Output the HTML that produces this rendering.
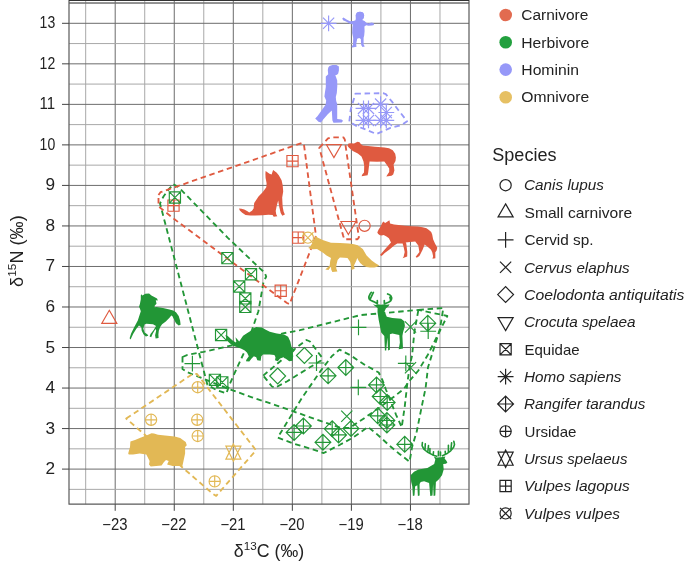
<!DOCTYPE html>
<html><head><meta charset="utf-8"><style>
html,body{margin:0;padding:0;background:#fff;width:685px;height:562px;overflow:hidden}
svg{display:block;will-change:transform}
</style></head><body><svg width="685" height="562" viewBox="0 0 685 562" font-family='"Liberation Sans", sans-serif'><g><line x1="85.68" y1="0.3" x2="85.68" y2="504.2" stroke="#a8a8a8" stroke-width="1"/><line x1="115.20" y1="0.3" x2="115.20" y2="504.2" stroke="#6c6c6c" stroke-width="1"/><line x1="144.72" y1="0.3" x2="144.72" y2="504.2" stroke="#a8a8a8" stroke-width="1"/><line x1="174.25" y1="0.3" x2="174.25" y2="504.2" stroke="#6c6c6c" stroke-width="1"/><line x1="203.77" y1="0.3" x2="203.77" y2="504.2" stroke="#a8a8a8" stroke-width="1"/><line x1="233.30" y1="0.3" x2="233.30" y2="504.2" stroke="#6c6c6c" stroke-width="1"/><line x1="262.82" y1="0.3" x2="262.82" y2="504.2" stroke="#a8a8a8" stroke-width="1"/><line x1="292.35" y1="0.3" x2="292.35" y2="504.2" stroke="#6c6c6c" stroke-width="1"/><line x1="321.88" y1="0.3" x2="321.88" y2="504.2" stroke="#a8a8a8" stroke-width="1"/><line x1="351.40" y1="0.3" x2="351.40" y2="504.2" stroke="#6c6c6c" stroke-width="1"/><line x1="380.92" y1="0.3" x2="380.92" y2="504.2" stroke="#a8a8a8" stroke-width="1"/><line x1="410.45" y1="0.3" x2="410.45" y2="504.2" stroke="#6c6c6c" stroke-width="1"/><line x1="439.97" y1="0.3" x2="439.97" y2="504.2" stroke="#a8a8a8" stroke-width="1"/><line x1="69.0" y1="489.36" x2="469.0" y2="489.36" stroke="#a8a8a8" stroke-width="1"/><line x1="69.0" y1="469.10" x2="469.0" y2="469.10" stroke="#6c6c6c" stroke-width="1"/><line x1="69.0" y1="448.84" x2="469.0" y2="448.84" stroke="#a8a8a8" stroke-width="1"/><line x1="69.0" y1="428.57" x2="469.0" y2="428.57" stroke="#6c6c6c" stroke-width="1"/><line x1="69.0" y1="408.31" x2="469.0" y2="408.31" stroke="#a8a8a8" stroke-width="1"/><line x1="69.0" y1="388.05" x2="469.0" y2="388.05" stroke="#6c6c6c" stroke-width="1"/><line x1="69.0" y1="367.78" x2="469.0" y2="367.78" stroke="#a8a8a8" stroke-width="1"/><line x1="69.0" y1="347.52" x2="469.0" y2="347.52" stroke="#6c6c6c" stroke-width="1"/><line x1="69.0" y1="327.26" x2="469.0" y2="327.26" stroke="#a8a8a8" stroke-width="1"/><line x1="69.0" y1="306.99" x2="469.0" y2="306.99" stroke="#6c6c6c" stroke-width="1"/><line x1="69.0" y1="286.73" x2="469.0" y2="286.73" stroke="#a8a8a8" stroke-width="1"/><line x1="69.0" y1="266.47" x2="469.0" y2="266.47" stroke="#6c6c6c" stroke-width="1"/><line x1="69.0" y1="246.20" x2="469.0" y2="246.20" stroke="#a8a8a8" stroke-width="1"/><line x1="69.0" y1="225.94" x2="469.0" y2="225.94" stroke="#6c6c6c" stroke-width="1"/><line x1="69.0" y1="205.67" x2="469.0" y2="205.67" stroke="#a8a8a8" stroke-width="1"/><line x1="69.0" y1="185.41" x2="469.0" y2="185.41" stroke="#6c6c6c" stroke-width="1"/><line x1="69.0" y1="165.15" x2="469.0" y2="165.15" stroke="#a8a8a8" stroke-width="1"/><line x1="69.0" y1="144.88" x2="469.0" y2="144.88" stroke="#6c6c6c" stroke-width="1"/><line x1="69.0" y1="124.62" x2="469.0" y2="124.62" stroke="#a8a8a8" stroke-width="1"/><line x1="69.0" y1="104.36" x2="469.0" y2="104.36" stroke="#6c6c6c" stroke-width="1"/><line x1="69.0" y1="84.09" x2="469.0" y2="84.09" stroke="#a8a8a8" stroke-width="1"/><line x1="69.0" y1="63.83" x2="469.0" y2="63.83" stroke="#6c6c6c" stroke-width="1"/><line x1="69.0" y1="43.57" x2="469.0" y2="43.57" stroke="#a8a8a8" stroke-width="1"/><line x1="69.0" y1="23.30" x2="469.0" y2="23.30" stroke="#6c6c6c" stroke-width="1"/><line x1="69.0" y1="3.04" x2="469.0" y2="3.04" stroke="#a8a8a8" stroke-width="1"/></g><rect x="69.0" y="0.3" width="400.00" height="503.90" fill="none" stroke="#5a5a5a" stroke-width="1.2" stroke-linejoin="round"/><line x1="69.0" y1="0.4" x2="469.0" y2="0.4" stroke="#333" stroke-width="1.1"/><line x1="69.0" y1="3.0" x2="469.0" y2="3.0" stroke="#555" stroke-width="1"/><g font-size="15.4" fill="#222"><line x1="62" y1="469.10" x2="69.0" y2="469.10" stroke="#444" stroke-width="1"/><text x="45.60" y="474.10" font-size="16.2" textLength="9.6" lengthAdjust="spacingAndGlyphs">2</text><line x1="62" y1="428.57" x2="69.0" y2="428.57" stroke="#444" stroke-width="1"/><text x="45.60" y="433.57" font-size="16.2" textLength="9.6" lengthAdjust="spacingAndGlyphs">3</text><line x1="62" y1="388.05" x2="69.0" y2="388.05" stroke="#444" stroke-width="1"/><text x="45.60" y="393.05" font-size="16.2" textLength="9.6" lengthAdjust="spacingAndGlyphs">4</text><line x1="62" y1="347.52" x2="69.0" y2="347.52" stroke="#444" stroke-width="1"/><text x="45.60" y="352.52" font-size="16.2" textLength="9.6" lengthAdjust="spacingAndGlyphs">5</text><line x1="62" y1="306.99" x2="69.0" y2="306.99" stroke="#444" stroke-width="1"/><text x="45.60" y="311.99" font-size="16.2" textLength="9.6" lengthAdjust="spacingAndGlyphs">6</text><line x1="62" y1="266.47" x2="69.0" y2="266.47" stroke="#444" stroke-width="1"/><text x="45.60" y="271.47" font-size="16.2" textLength="9.6" lengthAdjust="spacingAndGlyphs">7</text><line x1="62" y1="225.94" x2="69.0" y2="225.94" stroke="#444" stroke-width="1"/><text x="45.60" y="230.94" font-size="16.2" textLength="9.6" lengthAdjust="spacingAndGlyphs">8</text><line x1="62" y1="185.41" x2="69.0" y2="185.41" stroke="#444" stroke-width="1"/><text x="45.60" y="190.41" font-size="16.2" textLength="9.6" lengthAdjust="spacingAndGlyphs">9</text><line x1="62" y1="144.88" x2="69.0" y2="144.88" stroke="#444" stroke-width="1"/><text x="39.60" y="149.88" font-size="16.2" textLength="15.6" lengthAdjust="spacingAndGlyphs">10</text><line x1="62" y1="104.36" x2="69.0" y2="104.36" stroke="#444" stroke-width="1"/><text x="39.60" y="109.36" font-size="16.2" textLength="15.6" lengthAdjust="spacingAndGlyphs">11</text><line x1="62" y1="63.83" x2="69.0" y2="63.83" stroke="#444" stroke-width="1"/><text x="39.60" y="68.83" font-size="16.2" textLength="15.6" lengthAdjust="spacingAndGlyphs">12</text><line x1="62" y1="23.30" x2="69.0" y2="23.30" stroke="#444" stroke-width="1"/><text x="39.60" y="28.30" font-size="16.2" textLength="15.6" lengthAdjust="spacingAndGlyphs">13</text><line x1="115.20" y1="504.2" x2="115.20" y2="510.8" stroke="#444" stroke-width="1"/><text x="102.30" y="530.0" font-size="15.6" textLength="25.2" lengthAdjust="spacingAndGlyphs">−23</text><line x1="174.25" y1="504.2" x2="174.25" y2="510.8" stroke="#444" stroke-width="1"/><text x="161.35" y="530.0" font-size="15.6" textLength="25.2" lengthAdjust="spacingAndGlyphs">−22</text><line x1="233.30" y1="504.2" x2="233.30" y2="510.8" stroke="#444" stroke-width="1"/><text x="220.40" y="530.0" font-size="15.6" textLength="25.2" lengthAdjust="spacingAndGlyphs">−21</text><line x1="292.35" y1="504.2" x2="292.35" y2="510.8" stroke="#444" stroke-width="1"/><text x="279.45" y="530.0" font-size="15.6" textLength="25.2" lengthAdjust="spacingAndGlyphs">−20</text><line x1="351.40" y1="504.2" x2="351.40" y2="510.8" stroke="#444" stroke-width="1"/><text x="338.50" y="530.0" font-size="15.6" textLength="25.2" lengthAdjust="spacingAndGlyphs">−19</text><line x1="410.45" y1="504.2" x2="410.45" y2="510.8" stroke="#444" stroke-width="1"/><text x="397.55" y="530.0" font-size="15.6" textLength="25.2" lengthAdjust="spacingAndGlyphs">−18</text></g><text x="233.8" y="557.3" font-size="17.5" fill="#222" textLength="70.3" lengthAdjust="spacingAndGlyphs">δ<tspan font-size="11.5" dy="-7.5">13</tspan><tspan dy="7.5">C (‰)</tspan></text><text transform="translate(23.2,286.9) rotate(-90)" font-size="17.5" fill="#222" textLength="71.6" lengthAdjust="spacingAndGlyphs">δ<tspan font-size="11.5" dy="-7.5">15</tspan><tspan dy="7.5">N (‰)</tspan></text><g fill="none" stroke-width="1.85" stroke-dasharray="5.5 3.7" stroke-linejoin="round"><polygon points="173.5,184.3 178.5,187.1 227.6,237.6 258.4,267.0 264.5,272.5 266.2,276.5 263.4,282.7 258.4,311.2 244.7,351.2 236.0,370.0 229.6,384.5 226.4,393.3 216.1,389.8 207.4,384.8 160.0,203.5 163.5,196.5 169.0,189.0" stroke="#229636"/><polygon points="182.5,357.0 187.5,354.9 203.6,351.8 228.5,346.2 284.0,333.2 300.0,330.2 360.5,315.1 386.4,312.8 418.4,309.9 447.3,316.0 439.3,332.0 428.0,354.5 418.4,370.5 408.8,381.7 404.0,388.8 392.8,397.6 380.0,407.2 363.9,418.4 349.5,428.0 341.4,428.0 327.0,423.2 311.0,417.6 292.0,410.9 276.0,405.3 252.0,397.3 229.6,389.3 187.5,372.3 182.5,369.0" stroke="#229636"/><polygon points="418.4,309.9 443.3,308.0 440.0,328.8 434.5,346.4 428.0,367.3 425.6,388.0 421.6,407.2 416.8,431.2 412.0,447.3 409.6,461.7 399.2,453.7 389.6,445.7 376.2,433.5 368.0,427.0 352.4,438.0 339.9,444.8 323.7,453.0 311.0,448.9 295.0,444.0 277.7,437.6 302.1,397.6 321.4,369.9 332.0,356.0 339.5,349.6 350.0,355.0 365.0,365.0 378.7,372.5 382.4,380.0 386.1,390.0 391.1,402.4 396.1,414.8 401.7,427.3 404.8,406.1 407.3,383.7 409.8,365.0 412.0,356.0 414.4,332.0" stroke="#229636"/><polygon points="263.2,375.6 296.0,348.0 306.5,340.0 310.0,341.5 322.0,357.5 321.0,360.5 287.3,381.2 275.3,387.7 272.0,386.5" stroke="#229636"/><polygon points="355.4,93.7 383.0,93.2 385.8,94.2 392.4,102.2 398.1,109.8 407.1,121.2 401.9,125.0 390.5,127.8 376.3,134.0 368.7,130.7 356.4,126.0 349.3,121.7 350.7,109.8" stroke="#9698F8"/><polygon points="319.3,147.9 324.0,142.8 328.0,138.4 331.3,137.3 343.4,137.3 344.8,139.5 345.2,143.1 358.9,237.4 357.5,239.2 344.4,239.2 343.1,235.6" stroke="#DF5A40"/><polygon points="158.5,195.0 160.5,192.2 302.4,142.8 304.0,145.0 316.0,236.0 289.6,304.1 287.0,303.0 174.2,219.1 158.5,206.3" stroke="#DF5A40"/><polygon points="126.2,418.6 193.0,373.7 197.0,374.0 256.0,450.3 216.2,495.9 213.0,494.0" stroke="#E2B855"/></g><g fill="none" stroke="#9698F8" stroke-width="1.15"><path d="M323.00 17.70L334.20 28.90M323.00 28.90L334.20 17.70M320.68 23.30L336.52 23.30M328.60 15.38L328.60 31.22"/><path d="M357.90 102.80L369.10 114.00M357.90 114.00L369.10 102.80M355.58 108.40L371.42 108.40M363.50 100.48L363.50 116.32"/><path d="M362.90 102.80L374.10 114.00M362.90 114.00L374.10 102.80M360.58 108.40L376.42 108.40M368.50 100.48L368.50 116.32"/><path d="M375.00 98.50L386.20 109.70M375.00 109.70L386.20 98.50M372.68 104.10L388.52 104.10M380.60 96.18L380.60 112.02"/><path d="M380.70 106.90L391.90 118.10M380.70 118.10L391.90 106.90M378.38 112.50L394.22 112.50M386.30 104.58L386.30 120.42"/><path d="M357.90 114.80L369.10 126.00M357.90 126.00L369.10 114.80M355.58 120.40L371.42 120.40M363.50 112.48L363.50 128.32"/><path d="M362.90 114.80L374.10 126.00M362.90 126.00L374.10 114.80M360.58 120.40L376.42 120.40M368.50 112.48L368.50 128.32"/><path d="M375.00 114.80L386.20 126.00M375.00 126.00L386.20 114.80M372.68 120.40L388.52 120.40M380.60 112.48L380.60 128.32"/><path d="M380.70 114.80L391.90 126.00M380.70 126.00L391.90 114.80M378.38 120.40L394.22 120.40M386.30 112.48L386.30 128.32"/></g><g fill="none" stroke="#DF5A40" stroke-width="1.15"><path d="M333.90 157.61L341.44 144.55L326.36 144.55Z"/><path d="M348.40 234.51L355.94 221.45L340.86 221.45Z"/></g><g fill="none" stroke="#DF5A40" stroke-width="1.15"><circle cx="364.60" cy="225.80" r="5.60"/></g><g fill="none" stroke="#DF5A40" stroke-width="1.15"><path d="M167.90 200.00H179.10V211.20H167.90ZM167.90 205.60L179.10 205.60M173.50 200.00L173.50 211.20"/><path d="M286.90 155.50H298.10V166.70H286.90ZM286.90 161.10L298.10 161.10M292.50 155.50L292.50 166.70"/><path d="M292.60 232.00H303.80V243.20H292.60ZM292.60 237.60L303.80 237.60M298.20 232.00L298.20 243.20"/><path d="M275.10 285.10H286.30V296.30H275.10ZM275.10 290.70L286.30 290.70M280.70 285.10L280.70 296.30"/></g><g fill="none" stroke="#DF5A40" stroke-width="1.15"><path d="M109.30 310.29L116.84 323.35L101.76 323.35Z"/></g><g fill="none" stroke="#E2B855" stroke-width="1.15"><path d="M302.30 232.10L313.50 243.30M302.30 243.30L313.50 232.10"/><circle cx="307.90" cy="237.70" r="5.60"/></g><g fill="none" stroke="#E2B855" stroke-width="1.15"><path d="M192.10 387.20L203.30 387.20M197.70 381.60L197.70 392.80"/><circle cx="197.70" cy="387.20" r="5.60"/><path d="M145.50 419.80L156.70 419.80M151.10 414.20L151.10 425.40"/><circle cx="151.10" cy="419.80" r="5.60"/><path d="M191.60 419.80L202.80 419.80M197.20 414.20L197.20 425.40"/><circle cx="197.20" cy="419.80" r="5.60"/><path d="M192.10 436.00L203.30 436.00M197.70 430.40L197.70 441.60"/><circle cx="197.70" cy="436.00" r="5.60"/><path d="M209.10 481.40L220.30 481.40M214.70 475.80L214.70 487.00"/><circle cx="214.70" cy="481.40" r="5.60"/></g><g fill="none" stroke="#E2B855" stroke-width="1.15"><path d="M233.40 443.89L240.94 459.13L225.86 459.13ZM233.40 461.31L240.94 446.07L225.86 446.07Z"/></g><g fill="none" stroke="#229636" stroke-width="1.15"><path d="M169.30 191.90H180.50V203.10H169.30ZM169.30 191.90L180.50 203.10M169.30 203.10L180.50 191.90"/><path d="M221.80 252.50H233.00V263.70H221.80ZM221.80 252.50L233.00 263.70M221.80 263.70L233.00 252.50"/><path d="M245.40 268.60H256.60V279.80H245.40ZM245.40 268.60L256.60 279.80M245.40 279.80L256.60 268.60"/><path d="M233.60 280.90H244.80V292.10H233.60ZM233.60 280.90L244.80 292.10M233.60 292.10L244.80 280.90"/><path d="M239.70 292.80H250.90V304.00H239.70ZM239.70 292.80L250.90 304.00M239.70 304.00L250.90 292.80"/><path d="M239.70 301.30H250.90V312.50H239.70ZM239.70 301.30L250.90 312.50M239.70 312.50L250.90 301.30"/><path d="M215.50 329.40H226.70V340.60H215.50ZM215.50 329.40L226.70 340.60M215.50 340.60L226.70 329.40"/><path d="M209.30 374.20H220.50V385.40H209.30ZM209.30 374.20L220.50 385.40M209.30 385.40L220.50 374.20"/><path d="M216.70 376.70H227.90V387.90H216.70ZM216.70 376.70L227.90 387.90M216.70 387.90L227.90 376.70"/></g><g fill="none" stroke="#229636" stroke-width="1.15"><path d="M184.48 363.60L200.32 363.60M192.40 355.68L192.40 371.52"/><path d="M308.58 363.00L324.42 363.00M316.50 355.08L316.50 370.92"/><path d="M350.38 387.40L366.22 387.40M358.30 379.48L358.30 395.32"/><path d="M350.58 327.40L366.42 327.40M358.50 319.48L358.50 335.32"/><path d="M397.88 363.40L413.72 363.40M405.80 355.48L405.80 371.32"/><path d="M420.28 331.20L436.12 331.20M428.20 323.28L428.20 339.12"/></g><g fill="none" stroke="#229636" stroke-width="1.15"><path d="M404.90 321.40L416.10 332.60M404.90 332.60L416.10 321.40"/><path d="M404.90 362.20L416.10 373.40M404.90 373.40L416.10 362.20"/><path d="M341.20 410.60L352.40 421.80M341.20 421.80L352.40 410.60"/></g><g fill="none" stroke="#229636" stroke-width="1.15"><path d="M296.48 355.50L304.40 347.58L312.32 355.50L304.40 363.42Z"/><path d="M269.78 376.00L277.70 368.08L285.62 376.00L277.70 383.92Z"/></g><g fill="none" stroke="#229636" stroke-width="1.15"><path d="M320.18 375.80L328.10 367.88L336.02 375.80L328.10 383.72ZM320.18 375.80L336.02 375.80M328.10 367.88L328.10 383.72"/><path d="M337.88 367.50L345.80 359.58L353.72 367.50L345.80 375.42ZM337.88 367.50L353.72 367.50M345.80 359.58L345.80 375.42"/><path d="M368.58 384.90L376.50 376.98L384.42 384.90L376.50 392.82ZM368.58 384.90L384.42 384.90M376.50 376.98L376.50 392.82"/><path d="M372.28 396.50L380.20 388.58L388.12 396.50L380.20 404.42ZM372.28 396.50L388.12 396.50M380.20 388.58L380.20 404.42"/><path d="M379.28 402.50L387.20 394.58L395.12 402.50L387.20 410.42ZM379.28 402.50L395.12 402.50M387.20 394.58L387.20 410.42"/><path d="M369.78 415.80L377.70 407.88L385.62 415.80L377.70 423.72ZM369.78 415.80L385.62 415.80M377.70 407.88L377.70 423.72"/><path d="M378.98 420.50L386.90 412.58L394.82 420.50L386.90 428.42ZM378.98 420.50L394.82 420.50M386.90 412.58L386.90 428.42"/><path d="M378.98 425.00L386.90 417.08L394.82 425.00L386.90 432.92ZM378.98 425.00L394.82 425.00M386.90 417.08L386.90 432.92"/><path d="M286.18 432.40L294.10 424.48L302.02 432.40L294.10 440.32ZM286.18 432.40L302.02 432.40M294.10 424.48L294.10 440.32"/><path d="M295.48 426.00L303.40 418.08L311.32 426.00L303.40 433.92ZM295.48 426.00L311.32 426.00M303.40 418.08L303.40 433.92"/><path d="M324.28 428.80L332.20 420.88L340.12 428.80L332.20 436.72ZM324.28 428.80L340.12 428.80M332.20 420.88L332.20 436.72"/><path d="M330.68 434.90L338.60 426.98L346.52 434.90L338.60 442.82ZM330.68 434.90L346.52 434.90M338.60 426.98L338.60 442.82"/><path d="M343.08 428.40L351.00 420.48L358.92 428.40L351.00 436.32ZM343.08 428.40L358.92 428.40M351.00 420.48L351.00 436.32"/><path d="M314.98 442.30L322.90 434.38L330.82 442.30L322.90 450.22ZM314.98 442.30L330.82 442.30M322.90 434.38L322.90 450.22"/><path d="M396.78 444.30L404.70 436.38L412.62 444.30L404.70 452.22ZM396.78 444.30L412.62 444.30M404.70 436.38L404.70 452.22"/><path d="M419.88 323.20L427.80 315.28L435.72 323.20L427.80 331.12ZM419.88 323.20L435.72 323.20M427.80 315.28L427.80 331.12"/></g><g stroke-linejoin="round"><polygon points="342.3,18.2 343.5,17.6 346.5,19.5 350.0,21.2 353.5,21.0 355.5,20.3 355.8,18.5 355.6,15.0 357.0,12.4 360.0,11.7 363.0,12.4 364.2,15.2 363.5,18.5 362.2,20.0 364.5,21.0 366.3,22.8 368.5,23.5 371.5,22.5 373.6,23.0 374.0,25.0 372.0,25.6 368.5,25.8 366.2,25.2 364.4,26.5 364.6,31.0 364.2,35.5 363.6,37.8 363.6,44.5 364.8,46.5 362.5,47.0 361.2,45.0 360.8,39.0 359.2,38.0 357.2,38.8 356.2,44.0 356.5,46.8 352.3,47.4 351.6,46.3 353.0,45.0 353.2,38.0 352.2,33.0 352.4,27.5 352.8,24.6 349.5,23.6 346.0,21.5 343.0,20.2" fill="#9698F8"/><circle cx="360" cy="15.8" r="4.1" fill="#9698F8"/><polygon points="329.5,66.0 332.5,65.0 336.5,64.9 338.9,66.5 338.9,70.5 338.2,73.5 337.0,74.8 335.3,75.3 336.0,77.0 337.2,80.5 337.3,86.0 336.8,93.0 335.8,97.0 336.2,101.0 337.2,104.0 337.2,119.0 341.5,119.6 343.0,120.8 341.8,122.6 333.5,122.8 332.4,120.5 331.8,110.5 328.0,114.0 323.2,119.5 321.0,122.6 318.5,121.8 315.2,118.6 317.6,116.0 325.6,104.8 326.2,100.5 324.4,96.4 325.0,92.0 325.8,87.0 325.8,76.5 328.2,74.3 327.8,70.0 328.3,67.5" fill="#9698F8"/><polygon points="347.4,145.7 348.5,143.6 350.7,143.2 354.0,143.5 357.5,141.8 359.5,142.2 361.0,144.3 362.8,145.4 368.0,146.0 375.0,146.8 384.5,147.4 389.0,148.2 392.8,150.3 395.2,153.8 395.9,157.5 395.5,161.0 393.6,164.6 394.4,170.6 393.2,174.5 391.5,175.8 386.3,176.5 387.5,174.5 389.2,172.0 389.2,168.5 386.5,164.5 384.3,161.5 377.0,161.7 369.6,161.4 369.0,166.0 368.2,172.5 367.6,175.2 361.6,176.2 362.4,174.3 364.0,172.5 364.2,166.0 363.5,161.5 361.5,156.5 357.8,153.6 352.8,151.0 349.0,147.8" fill="#DF5A40"/><polygon points="265.6,171.0 269.5,173.8 271.6,174.6 273.1,170.0 276.5,172.5 278.8,175.2 281.6,180.2 282.7,185.3 283.2,191.4 282.2,197.5 282.5,204.0 282.8,207.6 283.6,211.5 284.9,214.6 282.3,215.7 280.7,213.0 279.5,208.0 278.6,203.2 278.2,200.5 276.8,205.6 275.7,211.0 276.2,214.2 277.3,216.3 273.7,216.8 272.6,214.9 268.5,214.8 262.4,215.3 255.0,215.5 250.3,215.4 245.5,214.9 242.2,212.8 239.8,210.6 239.0,208.6 241.5,208.8 244.2,209.6 247.5,211.2 249.2,212.4 252.0,210.8 253.6,208.5 254.2,203.0 256.5,199.5 258.5,196.4 262.4,192.4 264.5,189.8 266.3,187.3 266.6,183.3 265.6,178.0 265.4,174.0" fill="#DF5A40"/><polygon points="377.3,232.6 378.5,229.8 380.6,226.6 382.0,223.5 383.2,221.4 385.2,223.0 387.5,221.5 389.4,220.3 390.1,223.4 394.0,224.5 398.4,225.1 405.0,225.8 412.0,226.2 418.0,226.6 422.6,227.2 426.5,228.3 428.9,229.9 431.2,232.0 432.2,234.5 433.1,239.3 435.0,243.5 437.3,247.7 436.5,250.8 435.3,252.2 435.4,258.2 432.5,258.8 433.1,256.2 432.3,252.5 431.0,249.8 428.5,247.5 424.7,244.6 422.6,249.8 419.4,256.1 416.8,257.8 415.7,256.7 417.5,254.5 419.4,251.9 418.3,245.6 415.2,241.4 410.0,242.0 405.7,242.5 406.3,243.5 407.3,252.0 407.2,256.5 402.6,258.2 403.6,256.7 404.7,252.0 403.5,246.5 402.6,243.5 397.3,243.5 394.2,245.6 389.5,249.5 384.7,253.0 381.6,256.1 380.0,255.1 382.6,252.0 386.5,247.5 391.0,242.5 388.9,238.3 386.5,236.5 383.7,235.1 381.5,235.5 380.0,235.2 378.2,234.0" fill="#DF5A40"/><polygon points="308.2,247.9 311.0,245.5 314.0,239.5 315.8,235.8 317.5,237.5 319.0,238.3 323.4,240.2 331.0,242.8 340.0,243.1 348.8,243.4 354.0,244.2 357.7,245.3 362.8,249.1 366.6,255.5 371.7,260.6 375.5,263.3 379.3,265.6 376.5,267.0 374.2,267.5 370.0,267.4 366.6,266.9 363.0,265.5 360.2,263.1 358.5,260.5 357.2,258.0 356.4,260.6 354.0,265.4 354.6,268.8 351.3,270.1 351.3,266.9 350.5,263.0 350.1,261.8 347.5,258.0 344.0,257.8 339.9,257.4 337.6,259.9 336.4,265.0 336.2,268.2 337.4,271.4 332.3,272.0 331.2,269.5 331.0,266.5 328.5,270.1 325.3,269.5 327.5,267.5 329.7,265.6 330.2,261.0 331.0,258.0 326.5,255.5 323.4,252.9 317.0,249.1 313.0,249.3 310.7,249.1" fill="#E2B855"/><polygon points="141.3,294.2 142.4,295.4 145.4,293.7 149.1,293.6 151.4,295.4 153.8,296.7 157.0,298.6 157.9,300.6 155.8,300.3 156.5,303.8 154.8,305.6 154.5,307.2 156.5,307.1 163.0,308.0 169.5,309.4 173.2,310.4 176.0,312.2 178.7,315.9 180.1,320.5 180.6,324.7 178.7,325.6 176.0,323.3 174.1,319.6 172.3,315.9 171.3,315.5 169.5,317.8 165.8,321.5 162.1,324.2 160.2,327.0 158.8,330.7 158.4,334.4 158.6,338.0 155.6,338.6 155.1,335.3 156.2,330.5 155.5,329.0 152.8,333.5 151.2,337.2 149.6,336.5 150.5,334.0 153.8,329.8 156.0,326.0 153.0,324.2 146.4,323.8 144.5,324.4 143.3,328.6 144.6,332.4 147.3,334.2 148.3,335.8 145.9,336.4 143.6,334.6 141.7,330.7 141.3,327.2 139.0,325.6 136.2,329.0 133.4,333.5 131.6,337.2 130.6,339.5 129.6,338.3 131.1,333.5 134.3,327.0 137.8,320.5 139.9,314.0 140.8,311.3 139.9,308.5 139.0,306.7 139.9,303.9 140.8,299.3 140.8,295.6" fill="#229636"/><polygon points="225.4,335.0 227.8,335.9 230.4,338.5 233.3,340.9 235.9,342.4 236.3,341.8 235.5,337.2 237.5,339.5 239.2,341.6 241.2,338.5 243.1,335.7 246.5,333.4 250.5,331.1 253.3,328.3 256.2,327.1 261.9,327.5 265.3,329.4 269.8,331.7 276.7,333.4 284.1,334.5 288.1,336.8 290.3,341.4 291.5,347.1 293.8,348.8 294.9,350.5 292.8,352.8 293.2,356.2 292.6,360.7 289.2,361.3 286.9,359.6 283.5,357.3 280.1,358.4 277.8,361.3 275.0,360.2 275.5,357.3 274.4,355.0 269.8,354.5 263.0,354.5 261.3,356.2 260.7,360.7 257.3,360.2 256.2,357.3 253.9,356.2 251.6,358.4 249.3,361.6 245.9,361.3 246.5,359.6 248.8,356.2 247.1,352.8 244.8,350.5 241.4,348.8 236.8,347.1 233.4,345.9 230.0,343.6 227.1,340.8" fill="#229636"/><polygon points="372.9,304.2 375.5,305.0 377.5,304.3 381.0,304.8 384.3,304.3 387.0,304.8 389.5,304.3 388.5,306.2 385.8,308.5 384.5,311.5 386.8,316.8 392.4,318.0 401.1,318.7 404.3,321.2 404.9,326.1 403.0,332.4 402.4,336.1 403.0,348.6 398.7,349.2 399.9,342.4 399.3,334.9 392.4,333.6 389.9,334.3 389.9,349.8 388.1,350.5 387.4,337.4 386.2,350.5 384.9,350.5 384.3,336.1 381.2,332.4 378.7,320.0 377.5,312.0 377.6,308.0 375.2,306.3" fill="#229636"/><polygon points="128.2,453.5 128.8,451.3 130.0,447.0 130.4,441.4 135.0,440.0 141.0,437.5 147.0,435.3 151.5,433.3 154.0,433.5 158.0,434.8 165.0,435.5 174.7,436.5 180.2,438.1 185.7,442.0 186.8,445.3 185.1,446.9 185.1,453.5 183.5,461.1 182.4,466.1 172.6,466.1 167.1,464.4 168.7,461.1 166.0,460.0 163.8,462.2 161.6,465.5 150.7,466.6 149.0,464.4 149.6,461.1 146.3,454.6 139.7,453.5 133.1,454.6 128.8,454.6" fill="#E2B855"/><polygon points="433.8,456.6 436.5,457.6 441.0,457.3 445.4,456.6 444.6,458.6 446.2,460.6 447.4,462.4 446.0,463.7 443.2,463.9 443.7,469.5 442.0,475.2 438.7,479.6 435.9,481.9 435.3,495.4 433.6,495.9 433.1,484.1 432.5,495.4 430.3,495.9 429.1,483.0 424.1,481.3 420.7,481.9 419.6,484.1 419.6,495.4 417.9,495.9 417.3,485.3 415.1,486.4 414.5,495.4 412.9,495.9 412.3,486.4 411.2,481.9 410.6,475.2 414.0,471.8 418.5,469.5 427.4,467.9 434.2,463.9 435.3,459.6" fill="#229636"/><path d="M377.2,303.6L373.5,301.6L370.6,300.3Q368.6,299.2 368.9,296.6L370.2,293.8L371.4,292.3M370.4,298.6L372.3,294.6L373.4,292.4M377.4,303L377.3,300.6M384.6,303.8L388.6,302.3Q391.8,300.6 391.7,297.8Q391.3,295.6 389.6,294.8L387.6,294.0M390.8,300.6L389.9,297.2M384.3,303.2L384.3,300.6" fill="none" stroke="#229636" stroke-width="1.7" stroke-linecap="round"/><path d="M436.7,456.2L432.6,454.9L427.3,452.0L423.8,449.1L422.1,445.6L422.4,442.6M425.0,449.7L425.3,443.8M427.9,451.4L428.5,445.6M429.9,453.0L429.9,448.5M433.2,454.9L433.5,451.7M438.4,455.8L438.4,451.4M440.5,455.8L440.5,452.0M442.5,455.8L446.6,453.8L450.7,450.8L453.6,447.3L454.5,444.4L453.8,441.3M445.4,454.4L445.2,451.4M448.4,452.2L448.4,445.2M450.9,449.8L451.6,442.8" fill="none" stroke="#229636" stroke-width="1.6" stroke-linecap="round"/></g><g><circle cx="505.7" cy="15.0" r="6.3" fill="#E26B50"/><text x="521.3" y="20.1" font-size="14" fill="#222" textLength="67.1" lengthAdjust="spacingAndGlyphs">Carnivore</text><circle cx="505.7" cy="42.3" r="6.3" fill="#22A03E"/><text x="521.3" y="47.9" font-size="14" fill="#222" textLength="67.9" lengthAdjust="spacingAndGlyphs">Herbivore</text><circle cx="505.7" cy="69.6" r="6.3" fill="#9698F8"/><text x="521.3" y="74.7" font-size="14" fill="#222" textLength="57.6" lengthAdjust="spacingAndGlyphs">Hominin</text><circle cx="505.7" cy="97.3" r="6.3" fill="#E6C063"/><text x="521.3" y="102.4" font-size="14" fill="#222" textLength="67.9" lengthAdjust="spacingAndGlyphs">Omnivore</text><text x="492.3" y="160.6" font-size="18.3" fill="#222" textLength="64.2" lengthAdjust="spacingAndGlyphs">Species</text><g fill="none" stroke="#222" stroke-width="1.2"><circle cx="505.60" cy="185.20" r="5.60"/></g><text x="524.0" y="190.4" font-size="13.9" fill="#222" font-style="italic" textLength="80.0" lengthAdjust="spacingAndGlyphs">Canis lupus</text><g fill="none" stroke="#222" stroke-width="1.2"><path d="M505.60 203.84L513.14 216.90L498.06 216.90Z"/></g><text x="524.5" y="217.8" font-size="13.9" fill="#222" textLength="107.6" lengthAdjust="spacingAndGlyphs">Small carnivore</text><g fill="none" stroke="#222" stroke-width="1.2"><path d="M497.68 239.90L513.52 239.90M505.60 231.98L505.60 247.82"/></g><text x="524.5" y="245.1" font-size="13.9" fill="#222" textLength="69.0" lengthAdjust="spacingAndGlyphs">Cervid sp.</text><g fill="none" stroke="#222" stroke-width="1.2"><path d="M500.00 261.65L511.20 272.85M500.00 272.85L511.20 261.65"/></g><text x="524.0" y="272.5" font-size="13.9" fill="#222" font-style="italic" textLength="105.7" lengthAdjust="spacingAndGlyphs">Cervus elaphus</text><g fill="none" stroke="#222" stroke-width="1.2"><path d="M497.68 294.60L505.60 286.68L513.52 294.60L505.60 302.52Z"/></g><text x="524.0" y="299.8" font-size="13.9" fill="#222" font-style="italic" textLength="160.5" lengthAdjust="spacingAndGlyphs">Coelodonta antiquitatis</text><g fill="none" stroke="#222" stroke-width="1.2"><path d="M505.60 330.66L513.14 317.60L498.06 317.60Z"/></g><text x="524.0" y="327.1" font-size="13.9" fill="#222" font-style="italic" textLength="111.6" lengthAdjust="spacingAndGlyphs">Crocuta spelaea</text><g fill="none" stroke="#222" stroke-width="1.2"><path d="M500.00 343.70H511.20V354.90H500.00ZM500.00 343.70L511.20 354.90M500.00 354.90L511.20 343.70"/></g><text x="524.5" y="354.5" font-size="13.9" fill="#222" textLength="55.1" lengthAdjust="spacingAndGlyphs">Equidae</text><g fill="none" stroke="#222" stroke-width="1.2"><path d="M500.00 371.05L511.20 382.25M500.00 382.25L511.20 371.05M497.68 376.65L513.52 376.65M505.60 368.73L505.60 384.57"/></g><text x="524.0" y="381.9" font-size="13.9" fill="#222" font-style="italic" textLength="97.5" lengthAdjust="spacingAndGlyphs">Homo sapiens</text><g fill="none" stroke="#222" stroke-width="1.2"><path d="M497.68 404.00L505.60 396.08L513.52 404.00L505.60 411.92ZM497.68 404.00L513.52 404.00M505.60 396.08L505.60 411.92"/></g><text x="524.0" y="409.2" font-size="13.9" fill="#222" font-style="italic" textLength="121.4" lengthAdjust="spacingAndGlyphs">Rangifer tarandus</text><g fill="none" stroke="#222" stroke-width="1.2"><path d="M500.00 431.35L511.20 431.35M505.60 425.75L505.60 436.95"/><circle cx="505.60" cy="431.35" r="5.60"/></g><text x="524.5" y="436.6" font-size="13.9" fill="#222" textLength="52.0" lengthAdjust="spacingAndGlyphs">Ursidae</text><g fill="none" stroke="#222" stroke-width="1.2"><path d="M505.60 449.99L513.14 465.23L498.06 465.23ZM505.60 467.41L513.14 452.17L498.06 452.17Z"/></g><text x="524.0" y="463.9" font-size="13.9" fill="#222" font-style="italic" textLength="103.4" lengthAdjust="spacingAndGlyphs">Ursus spelaeus</text><g fill="none" stroke="#222" stroke-width="1.2"><path d="M500.00 480.45H511.20V491.65H500.00ZM500.00 486.05L511.20 486.05M505.60 480.45L505.60 491.65"/></g><text x="524.0" y="491.2" font-size="13.9" fill="#222" font-style="italic" textLength="105.8" lengthAdjust="spacingAndGlyphs">Vulpes lagopus</text><g fill="none" stroke="#222" stroke-width="1.2"><path d="M500.00 507.80L511.20 519.00M500.00 519.00L511.20 507.80"/><circle cx="505.60" cy="513.40" r="5.60"/></g><text x="524.0" y="518.6" font-size="13.9" fill="#222" font-style="italic" textLength="96.0" lengthAdjust="spacingAndGlyphs">Vulpes vulpes</text></g></svg></body></html>
